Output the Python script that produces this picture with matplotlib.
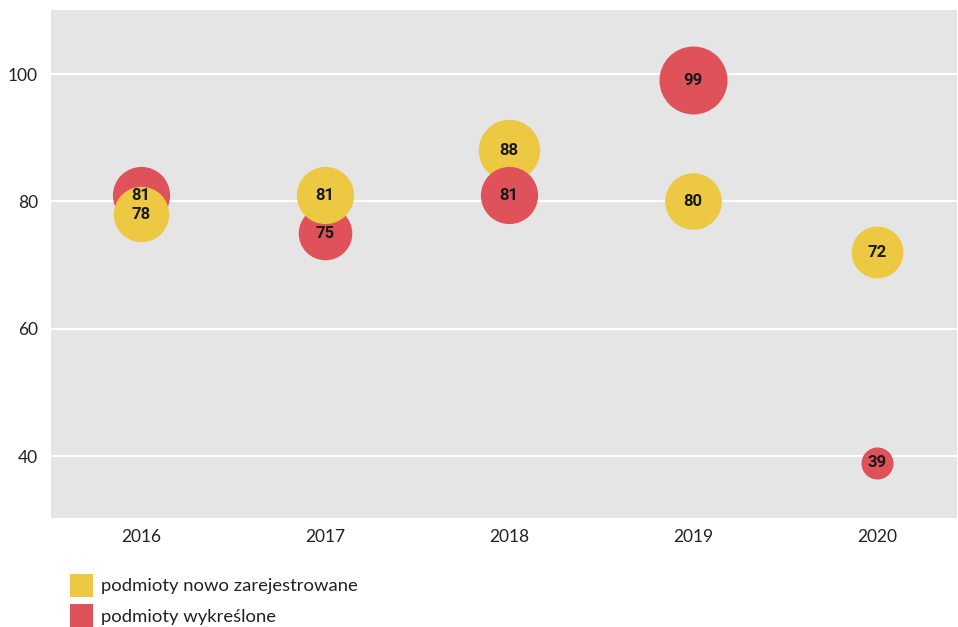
import matplotlib
matplotlib.use("Agg")
import matplotlib.pyplot as plt
from matplotlib.patches import Patch

years = [2016, 2017, 2018, 2019, 2020]
registered = [78, 81, 88, 80, 72]      # podmioty nowo zarejestrowane
removed = [81, 75, 81, 99, 39]         # podmioty wykreślone
y_ticks = [40, 60, 80, 100]
labels = ["podmioty nowo zarejestrowane", "podmioty wykreślone"]

YELLOW = "#ECC843"
RED = "#E0525A"
BG = "#E5E5E5"
TXT = "#222222"

plt.rcParams['font.family'] = ['Lato', 'DejaVu Sans']

fig = plt.figure(figsize=(9.58, 6.27), dpi=100)
ax = fig.add_axes([51/958, 1-518/627, 1-51/958-0.001, (518-10)/627])
ax.set_facecolor(BG)

def size_for(v):
    r_px = 0.3 * v + 4.3
    d_pt = 2 * r_px * 0.72
    return d_pt ** 2

# red on top only where it was drawn on top in the reference (2018)
red_on_top = [False, False, True, False, False]
for i, yr in enumerate(years):
    zr = 4 if red_on_top[i] else 2
    zy = 3
    ax.scatter([yr], [removed[i]], s=size_for(removed[i]), color=RED, linewidths=0, zorder=zr)
    ax.scatter([yr], [registered[i]], s=size_for(registered[i]), color=YELLOW, linewidths=0, zorder=zy)
    ax.text(yr, removed[i], str(removed[i]), ha='center', va='center', fontsize=12,
            fontweight='bold', color='#1a1a1a', zorder=6, family=['Roboto', 'DejaVu Sans'])
    ax.text(yr, registered[i], str(registered[i]), ha='center', va='center', fontsize=12,
            fontweight='bold', color='#1a1a1a', zorder=6, family=['Roboto', 'DejaVu Sans'])

ax.set_xlim(2015.512, 2020.434)
ax.set_ylim(30.3, 110.05)
ax.set_xticks(years)
ax.set_xticklabels([str(y) for y in years])
ax.set_yticks(y_ticks)
ax.grid(axis='y', color='white', linewidth=1.5, zorder=0)
ax.set_axisbelow(True)
ax.tick_params(axis='both', length=0, labelsize=12.5, colors=TXT)
ax.tick_params(axis='y', pad=9.5)
ax.tick_params(axis='x', pad=8)
for sp in ax.spines.values():
    sp.set_visible(False)

handles = [Patch(facecolor=YELLOW, edgecolor='none'), Patch(facecolor=RED, edgecolor='none')]
fig.legend(handles, labels, loc='upper left', bbox_to_anchor=(66/958, 1-570/627),
           frameon=False, fontsize=13.3, handlelength=1.25, handleheight=1.55,
           handletextpad=0.45, labelspacing=0.4, borderpad=0.2, borderaxespad=0,
           labelcolor=TXT)

fig.savefig("out.png", dpi=100)
